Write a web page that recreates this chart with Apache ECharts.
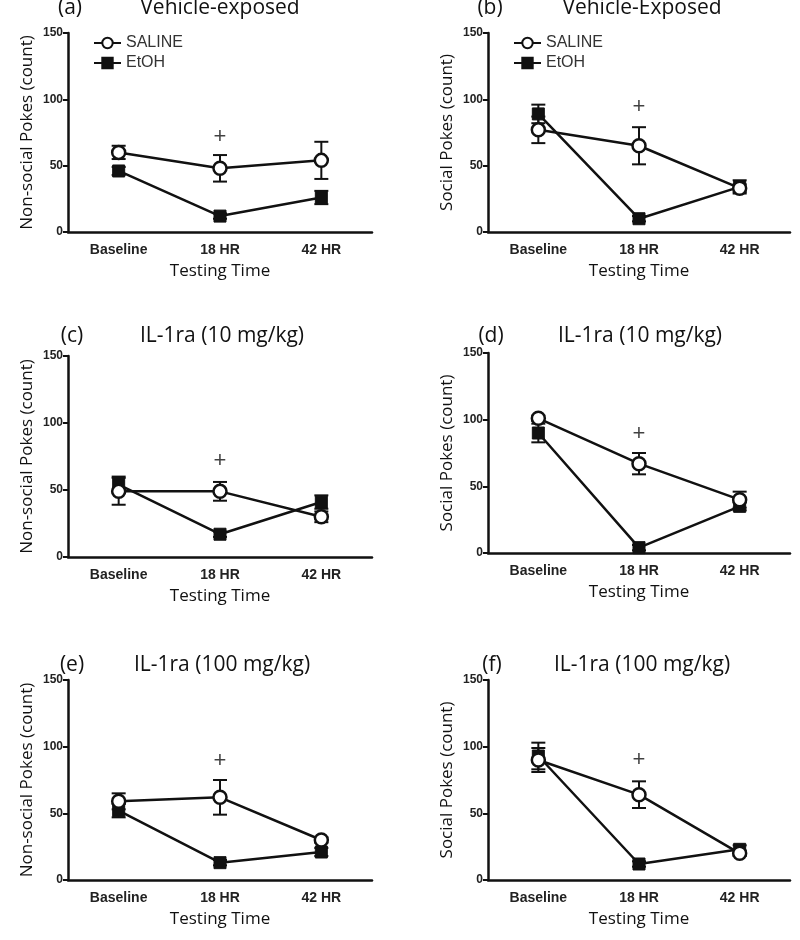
<!DOCTYPE html>
<html>
<head>
<meta charset="utf-8">
<script src="https://cdn.jsdelivr.net/npm/echarts@6/dist/echarts.min.js"></script>
<style>
html,body{margin:0;padding:0;background:#fff;}
#chart{width:800px;height:940px;}
</style>
</head>
<body>
<div id="chart"></div>
<script>
// ---- data ----
var categories = ['Baseline', '18 HR', '42 HR'];
var yTicks = [0, 50, 100, 150];

var salineA = [60, 48, 54],  salineAErr = [5, 10, 14];
var etohA   = [46, 12, 26],  etohAErr   = [3, 2, 5];
var plusA   = 72;

var salineB = [77, 65, 33],  salineBErr = [10, 14, 3];
var etohB   = [89, 10, 34],  etohBErr   = [7, 2, 5];
var plusB   = 94;

var salineC = [49, 49, 30],  salineCErr = [10, 7, 4];
var etohC   = [54, 17, 41],  etohCErr   = [6, 2, 5];
var plusC   = 72;

var salineD = [101, 67, 40], salineDErr = [2, 8, 6];
var etohD   = [90, 4, 35],   etohDErr   = [7, 2, 3];
var plusD   = 89;

var salineE = [59, 62, 30],  salineEErr = [6, 13, 2];
var etohE   = [52, 13, 21],  etohEErr   = [5, 2, 3];
var plusE   = 89;

var salineF = [90, 64, 20],  salineFErr = [9, 10, 2];
var etohF   = [93, 12, 23],  etohFErr   = [10, 2, 3];
var plusF   = 90;

var panelLetters = ['(a)', '(b)', '(c)', '(d)', '(e)', '(f)'];
var panelTitles = ['Vehicle-exposed', 'Vehicle-Exposed', 'IL-1ra (10 mg/kg)', 'IL-1ra (10 mg/kg)', 'IL-1ra (100 mg/kg)', 'IL-1ra (100 mg/kg)'];
var yNames = ['Non-social Pokes (count)', 'Social Pokes (count)', 'Non-social Pokes (count)', 'Social Pokes (count)', 'Non-social Pokes (count)', 'Social Pokes (count)'];
var xName = 'Testing Time';
var seriesNames = ['SALINE', 'EtOH'];

var panels = [
  {sal: salineA, salErr: salineAErr, et: etohA, etErr: etohAErr, plus: plusA},
  {sal: salineB, salErr: salineBErr, et: etohB, etErr: etohBErr, plus: plusB},
  {sal: salineC, salErr: salineCErr, et: etohC, etErr: etohCErr, plus: plusC},
  {sal: salineD, salErr: salineDErr, et: etohD, etErr: etohDErr, plus: plusD},
  {sal: salineE, salErr: salineEErr, et: etohE, etErr: etohEErr, plus: plusE},
  {sal: salineF, salErr: salineFErr, et: etohF, etErr: etohFErr, plus: plusF}
];

// ---- layout ----
var grids = [
  {left: 68,  top: 33,  width: 304, height: 199},
  {left: 488, top: 33,  width: 302, height: 199},
  {left: 68,  top: 356, width: 304, height: 201},
  {left: 488, top: 353, width: 302, height: 200},
  {left: 68,  top: 680, width: 304, height: 200},
  {left: 488, top: 680, width: 302, height: 200}
];
var letterX = [70, 490, 72, 491, 72, 492];
var titleX = [220, 642, 222, 640, 222, 642];
var titleY = [8, 8, 336, 336, 665, 665];

var INK = '#111';
var titleFont = '"Open Sans", "Noto Sans", sans-serif';
var tickFont = '"Liberation Sans", Arial, sans-serif';

var option = {
  backgroundColor: '#fff',
  animation: false,
  graphic: [],
  legend: [],
  grid: [],
  xAxis: [],
  yAxis: [],
  series: []
};

grids.forEach(function (g, i) {
  option.grid.push({left: g.left, top: g.top, width: g.width, height: g.height, containLabel: false});
  option.graphic.push({
    type: 'text', x: letterX[i], y: titleY[i], silent: true,
    style: {text: panelLetters[i], textAlign: 'center', textVerticalAlign: 'middle',
            fontFamily: titleFont, fontSize: 21, fill: '#111'}
  });
  option.graphic.push({
    type: 'text', x: titleX[i], y: titleY[i], silent: true,
    style: {text: panelTitles[i], textAlign: 'center', textVerticalAlign: 'middle',
            fontFamily: titleFont, fontSize: 21, fill: '#111'}
  });
  option.xAxis.push({
    type: 'category', gridIndex: i, data: categories, boundaryGap: true,
    name: xName, nameLocation: 'middle', nameGap: 31,
    nameTextStyle: {fontFamily: titleFont, fontSize: 17, color: '#111'},
    axisLine: {lineStyle: {color: INK, width: 2.5}},
    axisTick: {alignWithLabel: true, length: 6, lineStyle: {color: INK, width: 2}},
    axisLabel: {fontFamily: tickFont, fontSize: 14, fontWeight: 'bold', color: '#222', margin: 11},
    splitLine: {show: false}
  });
  option.yAxis.push({
    type: 'value', gridIndex: i, min: yTicks[0], max: yTicks[yTicks.length - 1], interval: 50,
    name: yNames[i], nameLocation: 'middle', nameGap: 32, nameRotate: 90,
    nameTextStyle: {fontFamily: titleFont, fontSize: 17, color: '#111'},
    axisLine: {show: true, lineStyle: {color: INK, width: 2.5}},
    axisTick: {show: true, length: 5, lineStyle: {color: INK, width: 2}},
    axisLabel: {fontFamily: tickFont, fontSize: 12, fontWeight: 'bold', color: '#222', margin: 5},
    splitLine: {show: false}
  });

  var p = panels[i];
  function errData(vals, errs) {
    return vals.map(function (v, k) { return [k, v - errs[k], v + errs[k]]; });
  }
  function errSeries(vals, errs) {
    return {
      type: 'custom', xAxisIndex: i, yAxisIndex: i, silent: true, z: 2,
      data: errData(vals, errs),
      renderItem: function (params, api) {
        var lo = api.coord([api.value(0), api.value(1)]);
        var hi = api.coord([api.value(0), api.value(2)]);
        var hw = 7;
        var st = {stroke: INK, lineWidth: 2, fill: null};
        return {
          type: 'group',
          children: [
            {type: 'line', shape: {x1: lo[0], y1: lo[1], x2: hi[0], y2: hi[1]}, style: st},
            {type: 'line', shape: {x1: lo[0] - hw, y1: lo[1], x2: lo[0] + hw, y2: lo[1]}, style: st},
            {type: 'line', shape: {x1: hi[0] - hw, y1: hi[1], x2: hi[0] + hw, y2: hi[1]}, style: st}
          ]
        };
      }
    };
  }
  option.series.push(errSeries(p.et, p.etErr));
  option.series.push(errSeries(p.sal, p.salErr));
  option.series.push({
    name: seriesNames[1], type: 'line', xAxisIndex: i, yAxisIndex: i, z: 3,
    data: p.et, symbol: 'rect', symbolSize: 12,
    lineStyle: {color: INK, width: 2.5},
    itemStyle: {color: INK, borderColor: INK, borderWidth: 1}
  });
  option.series.push({
    name: seriesNames[0], type: 'line', xAxisIndex: i, yAxisIndex: i, z: 4,
    data: p.sal, symbol: 'circle', symbolSize: 13, showAllSymbol: true,
    lineStyle: {color: INK, width: 2.5},
    itemStyle: {color: '#fff', borderColor: INK, borderWidth: 2.5}
  });
  option.series.push({
    type: 'scatter', xAxisIndex: i, yAxisIndex: i, silent: true, z: 5,
    data: [[1, p.plus]], symbolSize: 1, itemStyle: {color: 'rgba(0,0,0,0)'},
    label: {show: true, position: 'inside', formatter: '+', fontFamily: tickFont,
            fontSize: 22, color: '#111'}
  });
});

var legendCommon = {
  orient: 'vertical', itemWidth: 27, itemHeight: 13, itemGap: 4,
  data: seriesNames, selectedMode: false,
  textStyle: {fontFamily: tickFont, fontSize: 16, color: '#333'}
};
option.legend.push(Object.assign({}, legendCommon, {left: 88, top: 30}));
option.legend.push(Object.assign({}, legendCommon, {left: 508, top: 30}));

var chart = echarts.init(document.getElementById('chart'), null, {renderer: 'canvas'});
chart.setOption(option);
</script>
</body>
</html>
